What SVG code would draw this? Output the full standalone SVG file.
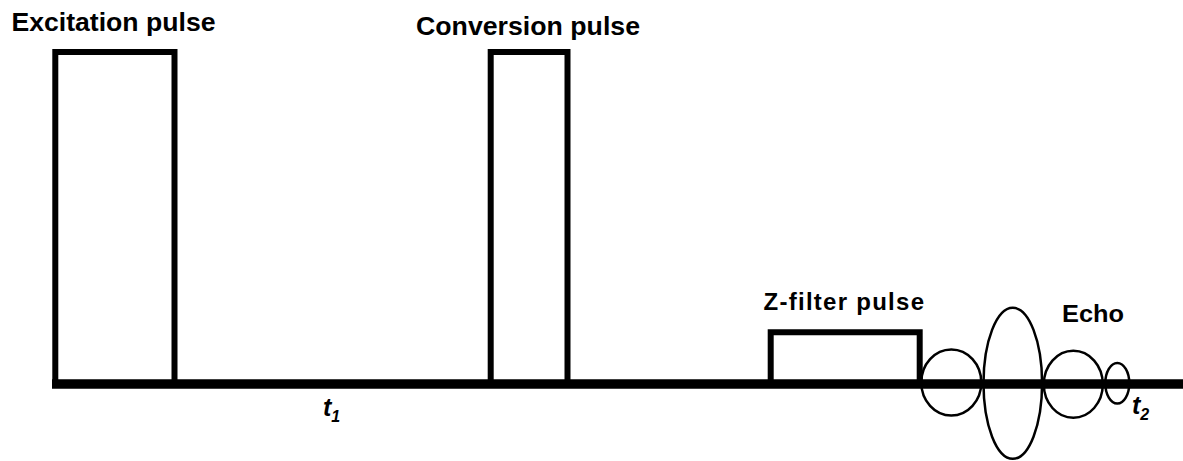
<svg xmlns="http://www.w3.org/2000/svg" width="1183" height="461" viewBox="0 0 1183 461">
<style>
.lbl{font-family:"Liberation Sans",Arial,sans-serif;font-weight:bold;fill:#000}
.it{font-family:"Liberation Sans",Arial,sans-serif;font-weight:bold;font-style:italic;fill:#000}
.pulse{fill:none;stroke:#000;stroke-width:6;stroke-linejoin:miter}
.echo{fill:none;stroke:#000;stroke-width:2.5}
</style>
<rect width="1183" height="461" fill="#fff"/>
<g id="connectors">
<line x1="52" y1="384" x2="1183" y2="384" stroke="#000" stroke-width="9.5"/>
</g>
<g id="excitation">
<path class="pulse" d="M55.3,384 V52 H174.5 V384"/>
<text class="lbl" x="11.5" y="31" font-size="26" textLength="204" lengthAdjust="spacingAndGlyphs">Excitation pulse</text>
</g>
<g id="conversion">
<path class="pulse" d="M490.7,384 V52 H567.5 V384"/>
<text class="lbl" x="416" y="35" font-size="26" textLength="224" lengthAdjust="spacingAndGlyphs">Conversion pulse</text>
</g>
<g id="zfilter">
<path class="pulse" d="M770.7,384 V332.3 H919.7 V384"/>
<text class="lbl" x="763.5" y="309.5" font-size="24" textLength="160.5" lengthAdjust="spacing">Z-filter pulse</text>
</g>
<g id="echo">
<ellipse class="echo" cx="951.3" cy="382.5" rx="30" ry="33"/>
<ellipse class="echo" cx="1012.8" cy="383.3" rx="29.3" ry="75.5"/>
<ellipse class="echo" cx="1073.3" cy="384.3" rx="29.5" ry="33.5"/>
<ellipse class="echo" cx="1117.3" cy="383.3" rx="12" ry="20.3"/>
<text class="lbl" x="1062" y="322.3" font-size="24" textLength="62" lengthAdjust="spacingAndGlyphs">Echo</text>
</g>
<g id="t1">
<text class="it" x="323" y="416" font-size="25">t<tspan font-size="16" dy="6">1</tspan></text>
</g>
<g id="t2">
<text class="it" x="1132" y="413.5" font-size="25">t<tspan font-size="16" dy="6">2</tspan></text>
</g>
</svg>
